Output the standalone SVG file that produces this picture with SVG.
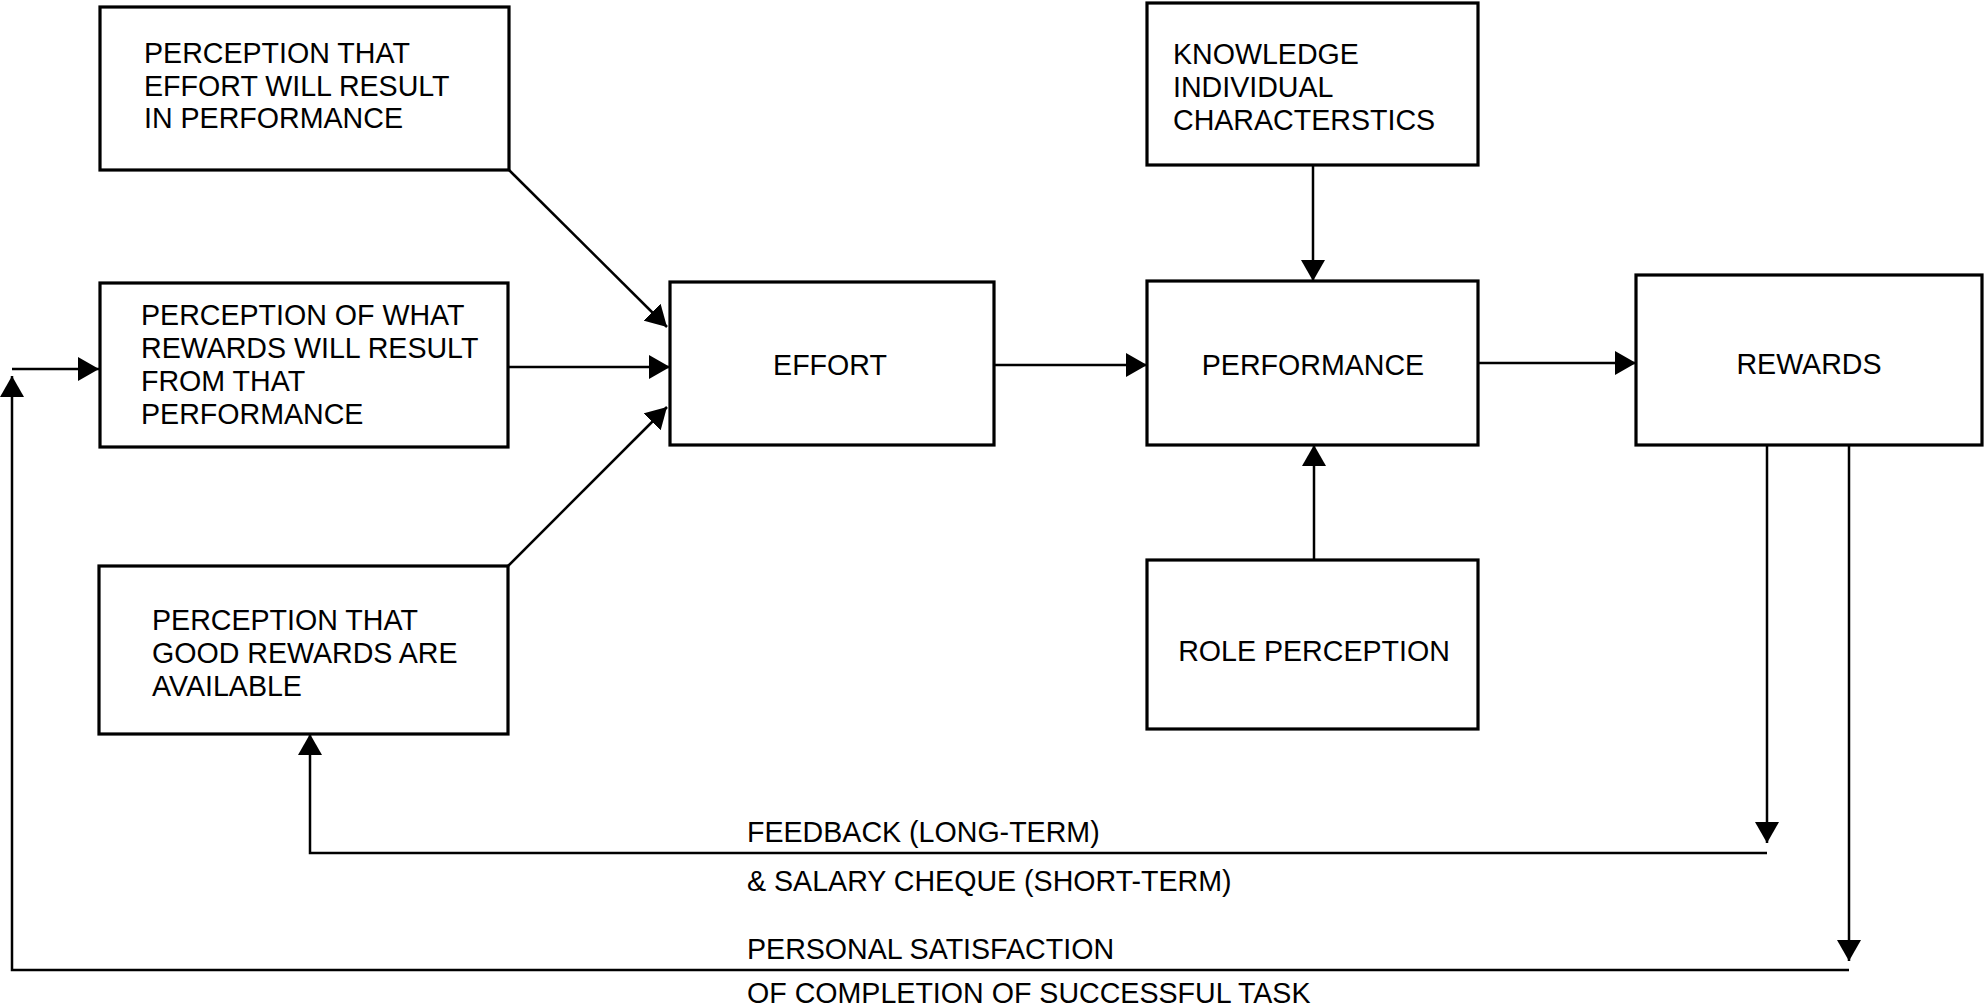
<svg xmlns="http://www.w3.org/2000/svg" width="1985" height="1007" viewBox="0 0 1985 1007">
<style>
.box{fill:#fff;stroke:#000;stroke-width:3.2}
.t{font-family:"Liberation Sans",Arial,sans-serif;font-size:28.6px;fill:#000}
.c{text-anchor:middle}
.ln{fill:none;stroke:#000;stroke-width:2.5}
</style>
<defs>
<marker id="ah" markerUnits="userSpaceOnUse" viewBox="0 0 21 24" markerWidth="21" markerHeight="24" refX="21" refY="12" orient="auto">
<path d="M0,0 L21,12 L0,24 z" fill="#000"/>
</marker>
</defs>
<rect width="1985" height="1007" fill="#fff"/>
<g id="connectors">
<path class="ln" d="M509 170 L667 327" marker-end="url(#ah)"/>
<path class="ln" d="M508 367 H670" marker-end="url(#ah)"/>
<path class="ln" d="M508 566 L667 407" marker-end="url(#ah)"/>
<path class="ln" d="M994 365 H1147" marker-end="url(#ah)"/>
<path class="ln" d="M1313 165 V281" marker-end="url(#ah)"/>
<path class="ln" d="M1314 560 V445" marker-end="url(#ah)"/>
<path class="ln" d="M1478 363 H1636" marker-end="url(#ah)"/>
<path class="ln" d="M1767 445 V843" marker-end="url(#ah)"/>
<path class="ln" d="M1767 853 H310 V734" marker-end="url(#ah)"/>
<path class="ln" d="M1849 445 V961" marker-end="url(#ah)"/>
<path class="ln" d="M1849 970 H12 V376" marker-end="url(#ah)"/>
<path class="ln" d="M12 369 H99" marker-end="url(#ah)"/>
</g>
<g id="n-effort-perf">
<rect class="box" x="100" y="7" width="409" height="163"/>
<text class="t" x="144" y="63">PERCEPTION THAT</text>
<text class="t" x="144" y="96">EFFORT WILL RESULT</text>
<text class="t" x="144" y="128">IN PERFORMANCE</text>
</g>
<g id="n-rewards-result">
<rect class="box" x="100" y="283" width="408" height="164"/>
<text class="t" x="141" y="325">PERCEPTION OF WHAT</text>
<text class="t" x="141" y="358">REWARDS WILL RESULT</text>
<text class="t" x="141" y="391">FROM THAT</text>
<text class="t" x="141" y="424">PERFORMANCE</text>
</g>
<g id="n-good-rewards">
<rect class="box" x="99" y="566" width="409" height="168"/>
<text class="t" x="152" y="630">PERCEPTION THAT</text>
<text class="t" x="152" y="663">GOOD REWARDS ARE</text>
<text class="t" x="152" y="696">AVAILABLE</text>
</g>
<g id="n-effort">
<rect class="box" x="670" y="282" width="324" height="163"/>
<text class="t c" x="830" y="375">EFFORT</text>
</g>
<g id="n-knowledge">
<rect class="box" x="1147" y="3" width="331" height="162"/>
<text class="t" x="1173" y="64">KNOWLEDGE</text>
<text class="t" x="1173" y="97">INDIVIDUAL</text>
<text class="t" x="1173" y="130">CHARACTERSTICS</text>
</g>
<g id="n-performance">
<rect class="box" x="1147" y="281" width="331" height="164"/>
<text class="t c" x="1313" y="375">PERFORMANCE</text>
</g>
<g id="n-rewards">
<rect class="box" x="1636" y="275" width="346" height="170"/>
<text class="t c" x="1809" y="374">REWARDS</text>
</g>
<g id="n-role">
<rect class="box" x="1147" y="560" width="331" height="169"/>
<text class="t c" x="1314" y="661">ROLE PERCEPTION</text>
</g>
<g id="labels">
<text class="t" x="747" y="842">FEEDBACK (LONG-TERM)</text>
<text class="t" x="747" y="891">&amp; SALARY CHEQUE (SHORT-TERM)</text>
<text class="t" x="747" y="959">PERSONAL SATISFACTION</text>
<text class="t" x="747" y="1003">OF COMPLETION OF SUCCESSFUL TASK</text>
</g>
</svg>
